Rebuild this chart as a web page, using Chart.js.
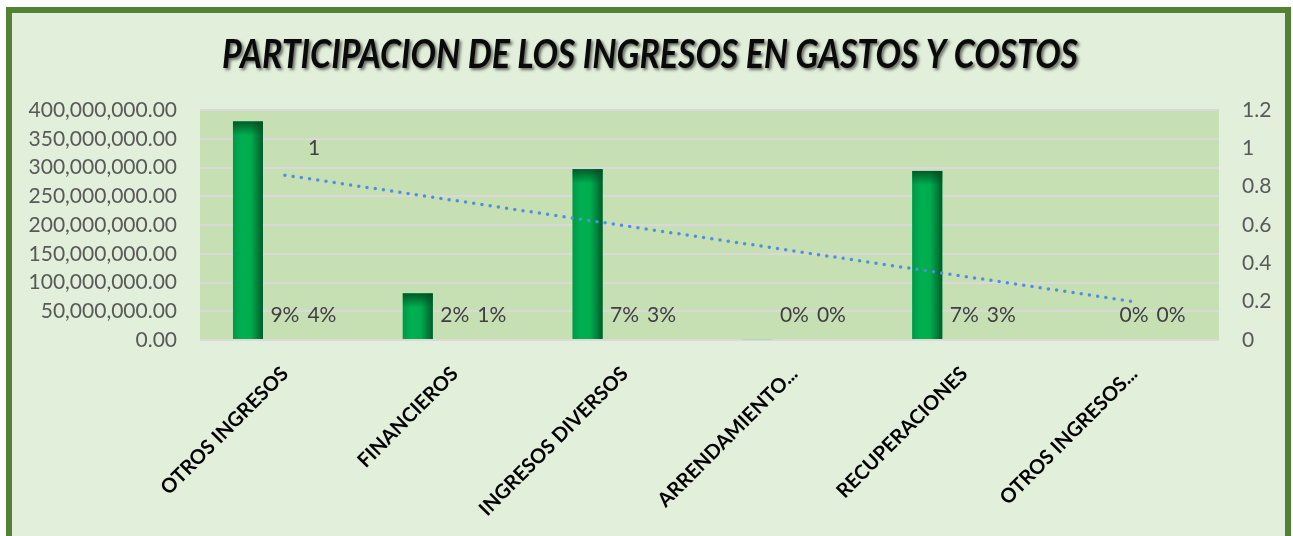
<!DOCTYPE html>
<html>
<head>
<meta charset="utf-8">
<script src="https://cdn.jsdelivr.net/npm/chart.js@4/dist/chart.umd.min.js"></script>
<style>
  html, body { margin: 0; padding: 0; background: #fff; }
  #wrap { width: 1293px; height: 536px; }
</style>
</head>
<body>
<div id="wrap"><canvas id="ingresosChart" width="1293" height="536"></canvas></div>
<script>
// categories and values
const categorias = [
    "OTROS INGRESOS",
    "FINANCIEROS",
    "INGRESOS DIVERSOS",
    "ARRENDAMIENTO...",
    "RECUPERACIONES",
    "OTROS INGRESOS..."
];
const valores = [380000000, 81000000, 297000000, 1500000, 294000000, 0];
const partGastos = [0.09, 0.02, 0.07, 0, 0.07, 0];
const partCostos = [0.04, 0.01, 0.03, 0, 0.03, 0];
const total = [1, null, null, null, null, null];
const tendencia = [0.86, null, null, null, null, 0.2];

const tituloTexto = "PARTICIPACION DE LOS INGRESOS EN GASTOS Y COSTOS";

// frame, plot background, title
const fondoPlugin = {
    id: "fondo",
    beforeDraw(chart) {
        const c = chart.ctx;
        const a = chart.chartArea;
        c.save();
        c.fillStyle = "#ffffff";
        c.fillRect(0, 0, chart.width, chart.height);
        c.fillStyle = "#548235";
        c.fillRect(6, 7, 1285, 540);
        c.fillStyle = "#E2EFDA";
        c.fillRect(12, 13, 1273, 540);
        c.fillStyle = "#C6E0B4";
        c.fillRect(a.left, a.top, a.right - a.left, a.bottom - a.top);
        c.restore();
    },
    afterDraw(chart) {
        const c = chart.ctx;
        c.save();
        c.font = "italic bold 41px Lato";
        const w = c.measureText(tituloTexto).width;
        const sx = 856 / w;
        c.translate(650, 68);
        c.scale(sx, 1);
        c.shadowColor = "rgba(0,0,0,0.55)";
        c.shadowOffsetX = 2;
        c.shadowOffsetY = 2;
        c.shadowBlur = 3;
        c.fillStyle = "#0a0a0a";
        c.textAlign = "center";
        c.textBaseline = "alphabetic";
        c.fillText(tituloTexto, 0, 0);
        c.restore();
    }
};

// gradient fill for the columns, and the data labels
const barrasPlugin = {
    id: "barras",
    afterDatasetDraw(chart, args) {
        const c = chart.ctx;
        const meta = args.meta;
        if (args.index === 0) {
            c.save();
            meta.data.forEach(el => {
                const h = el.base - el.y;
                if (h <= 0) return;
                const l = el.x - el.width / 2;
                const g = c.createLinearGradient(l, 0, l + el.width, 0);
                g.addColorStop(0, "#00994A");
                g.addColorStop(0.3, "#00B050");
                g.addColorStop(0.6, "#00AC4E");
                g.addColorStop(1, "#005C2A");
                c.fillStyle = g;
                c.fillRect(l, el.y, el.width, h);
                const t = c.createLinearGradient(0, el.y, 0, el.y + Math.min(14, h));
                t.addColorStop(0, "rgba(0,80,35,0.9)");
                t.addColorStop(1, "rgba(0,80,35,0)");
                c.fillStyle = t;
                c.fillRect(l, el.y, el.width, Math.min(14, h));
            });
            c.restore();
        }
        if (args.index === 1 || args.index === 2) {
            const datos = args.index === 1 ? partGastos : partCostos;
            const base = chart.scales.y.getPixelForValue(0);
            c.save();
            c.font = "21px Lato";
            c.fillStyle = "#404040";
            c.textAlign = "center";
            c.textBaseline = "middle";
            meta.data.forEach((el, i) => {
                c.fillText(Math.round(datos[i] * 100) + "%", el.x, base - 25);
            });
            c.restore();
        }
        if (args.index === 3) {
            c.save();
            c.font = "21px Lato";
            c.fillStyle = "#404040";
            c.textAlign = "left";
            c.textBaseline = "middle";
            meta.data.forEach((el, i) => {
                if (total[i] === null) return;
                c.fillText(String(total[i]), el.x + 23, el.y);
            });
            c.restore();
        }
    }
};

const ctx = document.getElementById("ingresosChart").getContext("2d");

new Chart(ctx, {
    data: {
        labels: categorias,
        datasets: [
            {
                type: "bar",
                label: "Valor",
                data: valores,
                backgroundColor: "#00B050",
                yAxisID: "y",
                order: 2,
                barPercentage: 0.81,
                categoryPercentage: 0.653
            },
            {
                type: "bar",
                label: "% Gastos",
                data: partGastos,
                backgroundColor: "rgba(0,0,0,0)",
                yAxisID: "y",
                order: 2,
                barPercentage: 0.81,
                categoryPercentage: 0.653
            },
            {
                type: "bar",
                label: "% Costos",
                data: partCostos,
                backgroundColor: "rgba(0,0,0,0)",
                yAxisID: "y",
                order: 2,
                barPercentage: 0.81,
                categoryPercentage: 0.653
            },
            {
                type: "line",
                label: "Total",
                data: total,
                yAxisID: "y1",
                showLine: false,
                pointRadius: 0,
                order: 1
            },
            {
                type: "line",
                label: "Tendencia",
                data: tendencia,
                yAxisID: "y1",
                spanGaps: true,
                borderColor: "#4F8FDB",
                borderWidth: 3.5,
                borderDash: [0, 8.3],
                borderCapStyle: "round",
                pointRadius: 0,
                fill: false,
                order: 0
            }
        ]
    },
    options: {
        responsive: false,
        animation: false,
        layout: { padding: { top: 110, left: 0, right: 0, bottom: 0 } },
        plugins: {
            legend: { display: false },
            title: { display: false },
            tooltip: { enabled: false }
        },
        scales: {
            x: {
                offset: true,
                grid: { display: false },
                border: { display: false },
                ticks: {
                    autoSkip: false,
                    minRotation: 45,
                    maxRotation: 45,
                    padding: 14,
                    color: "#000000",
                    font: { family: "Lato", size: 20, weight: "bold" }
                },
                afterFit(scale) { scale.height = 196; }
            },
            y: {
                position: "left",
                min: 0,
                max: 400000000,
                grid: { color: "#D9D9D9", lineWidth: 2, drawTicks: false },
                border: { display: false },
                ticks: {
                    stepSize: 50000000,
                    padding: 23,
                    color: "#595959",
                    font: { family: "Lato", size: 21 },
                    callback: v => v.toLocaleString("en-US", { minimumFractionDigits: 2, maximumFractionDigits: 2 })
                },
                afterFit(scale) { scale.width = 200; }
            },
            y1: {
                position: "right",
                min: 0,
                max: 1.2,
                grid: { display: false, drawTicks: false },
                border: { display: false },
                ticks: {
                    stepSize: 0.2,
                    padding: 23,
                    color: "#595959",
                    font: { family: "Lato", size: 21 },
                    callback: v => String(Math.round(v * 10) / 10)
                },
                afterFit(scale) { scale.width = 74; }
            }
        }
    },
    plugins: [fondoPlugin, barrasPlugin]
});
</script>
</body>
</html>
